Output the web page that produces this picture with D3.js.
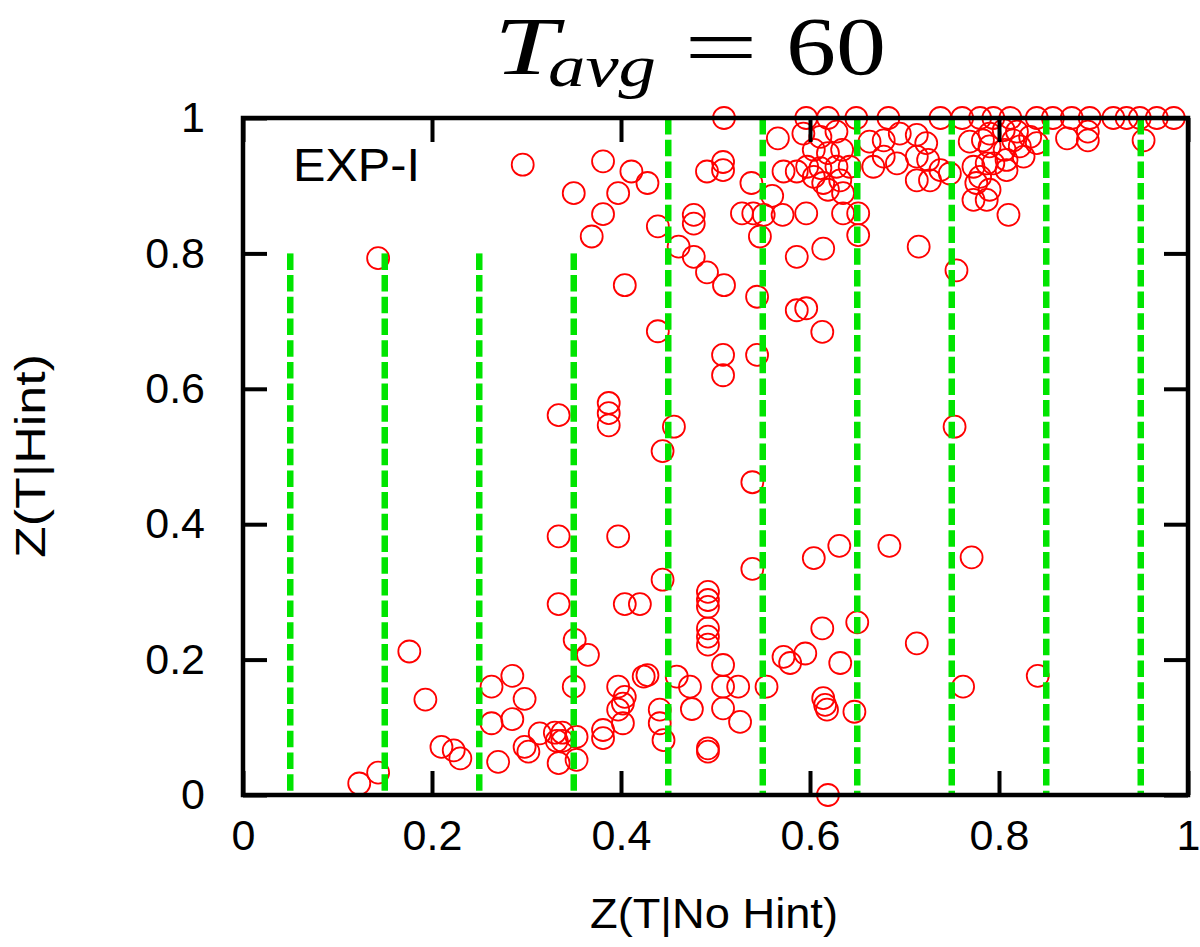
<!DOCTYPE html>
<html>
<head>
<meta charset="utf-8">
<script src="https://cdn.jsdelivr.net/npm/d3@7"></script>
<style>
  html, body { margin: 0; padding: 0; background: #fff; }
  svg { display: block; }
  .tick text { font-family: "Liberation Sans", Arial, sans-serif; }
</style>
</head>
<body>
<svg id="chart" width="1200" height="947"></svg>
<script>
// Z(T|No Hint) per trial
const noHint = [
  0.123, 0.143, 0.143, 0.176, 0.193, 0.210, 0.223, 0.230, 0.263, 0.285,
  0.298, 0.263, 0.285, 0.270, 0.298, 0.302, 0.314, 0.330, 0.338, 0.332,
  0.338, 0.334, 0.353, 0.353, 0.350, 0.351, 0.365, 0.334, 0.334, 0.334,
  0.387, 0.387, 0.387, 0.397, 0.404, 0.420, 0.381, 0.381, 0.397, 0.402,
  0.404, 0.397, 0.402, 0.424, 0.428, 0.441, 0.441, 0.445, 0.444, 0.444,
  0.439, 0.296, 0.381, 0.411, 0.428, 0.350, 0.397, 0.381, 0.369, 0.404,
  0.439,
  0.456, 0.459, 0.473, 0.475, 0.492, 0.492, 0.492, 0.492, 0.492, 0.492,
  0.492, 0.492, 0.508, 0.508, 0.524, 0.508, 0.526, 0.539, 0.539, 0.554,
  0.572, 0.579, 0.595, 0.508, 0.508, 0.544, 0.544, 0.491, 0.509, 0.461,
  0.477, 0.477, 0.477, 0.491, 0.508, 0.508, 0.509, 0.538, 0.528, 0.540,
  0.551, 0.547, 0.560, 0.566, 0.572, 0.571, 0.586, 0.596, 0.586, 0.596,
  0.586, 0.593, 0.596, 0.597,
  0.604, 0.604, 0.611, 0.611, 0.614, 0.614, 0.613, 0.604, 0.613, 0.614,
  0.616, 0.618, 0.619, 0.619, 0.619, 0.619, 0.628, 0.628, 0.632, 0.634,
  0.635, 0.635, 0.631, 0.632, 0.642, 0.647, 0.650, 0.651, 0.651, 0.649,
  0.663, 0.667, 0.678, 0.678, 0.683, 0.684, 0.692, 0.695,
  0.713, 0.713, 0.713, 0.715, 0.713, 0.723, 0.725, 0.727, 0.738, 0.738,
  0.748, 0.753, 0.755, 0.761, 0.762, 0.769, 0.771, 0.773, 0.773, 0.776,
  0.780, 0.783, 0.787, 0.787, 0.780, 0.790, 0.790, 0.790, 0.794, 0.794,
  0.805, 0.806, 0.808, 0.808, 0.810, 0.812, 0.815, 0.819, 0.822, 0.826,
  0.833, 0.840, 0.840, 0.841, 0.857, 0.872, 0.877, 0.894, 0.894, 0.896,
  0.921, 0.935, 0.949, 0.953, 0.967, 0.985
];

// Z(T|Hint) per trial, same order as noHint
const withHint = [
  0.017, 0.033, 0.793, 0.212, 0.141, 0.071, 0.066, 0.054, 0.160, 0.176,
  0.142, 0.106, 0.112, 0.049, 0.071, 0.064, 0.091, 0.092, 0.092, 0.080,
  0.080, 0.047, 0.086, 0.052, 0.160, 0.229, 0.207, 0.282, 0.382, 0.561,
  0.579, 0.564, 0.546, 0.382, 0.282, 0.282, 0.096, 0.084, 0.126, 0.135,
  0.145, 0.160, 0.106, 0.175, 0.177, 0.126, 0.106, 0.081, 0.318, 0.508,
  0.685, 0.931, 0.936, 0.921, 0.904, 0.889, 0.889, 0.858, 0.825, 0.753,
  0.840,
  0.544, 0.175, 0.160, 0.127, 0.300, 0.288, 0.278, 0.246, 0.234, 0.222,
  0.069, 0.064, 0.192, 0.160, 0.160, 0.128, 0.108, 0.462, 0.334, 0.160,
  0.204, 0.195, 0.209, 0.650, 0.620, 0.650, 0.736, 0.772, 0.753, 0.810,
  0.795, 0.857, 0.844, 0.921, 0.923, 0.935, 1.000, 0.904, 0.859, 0.859,
  0.857, 0.825, 0.885, 0.970, 0.921, 0.857, 0.716, 0.719, 0.795, 0.859,
  0.921, 0.977, 1.000, 0.928,
  0.953, 0.913, 0.972, 0.926, 0.904, 0.807, 0.684, 0.350, 0.246, 0.143,
  0.133, 0.126, 0.000, 0.948, 1.000, 0.894, 0.980, 0.928, 0.908, 0.953,
  0.889, 0.859, 0.368, 0.195, 0.928, 0.123, 0.255, 0.859, 0.827, 1.000,
  0.965, 0.928, 0.967, 0.943, 1.000, 0.368, 0.933, 0.977,
  0.975, 0.943, 0.908, 0.810, 0.224, 0.963, 0.938, 0.908, 1.000, 0.923,
  0.918, 0.544, 0.775, 1.000, 0.160, 0.965, 0.351, 0.928, 0.879, 0.904,
  1.000, 0.967, 0.933, 0.879, 0.913, 0.977, 0.958, 0.894, 1.000, 0.933,
  0.982, 0.953, 0.938, 0.923, 0.857, 1.000, 0.967, 0.980, 0.958, 0.943,
  0.972, 0.963, 1.000, 0.176, 1.000, 0.970, 1.000, 0.967, 0.980, 1.000,
  1.000, 1.000, 1.000, 0.967, 1.000, 1.000
];

// Vertical dashed reference lines (x position and upper end)
const refX = [0.05, 0.15, 0.25, 0.35, 0.45, 0.55, 0.65, 0.75, 0.85, 0.95];
const refTop = [0.8, 0.8, 0.8, 0.8, 1, 1, 1, 1, 1, 1];

const xTicks = [0, 0.2, 0.4, 0.6, 0.8, 1];
const yTicks = [0, 0.2, 0.4, 0.6, 0.8, 1];
const xTickLabels = ["0", "0.2", "0.4", "0.6", "0.8", "1"];
const yTickLabels = ["0", "0.2", "0.4", "0.6", "0.8", "1"];

const panelLabel = "EXP-I";
const xTitle = "Z(T|No Hint)";
const yTitle = "Z(T|Hint)";

const svg = d3.select("#chart");
const plotL = 243, plotR = 1188, plotT = 118, plotB = 795;

const x = d3.scaleLinear().domain([0, 1]).range([plotL, plotR]);
const y = d3.scaleLinear().domain([0, 1]).range([plotB, plotT]);

const points = noHint.map((v, i) => ({ nh: v, h: withHint[i] }));

// scatter of trials
svg.append("g")
  .selectAll("circle")
  .data(points)
  .join("circle")
  .attr("cx", d => x(d.nh))
  .attr("cy", d => y(d.h))
  .attr("r", 11)
  .attr("fill", "none")
  .attr("stroke", "#ff0000")
  .attr("stroke-width", 1.8);

// dashed green reference lines
svg.append("g")
  .selectAll("line")
  .data(refX)
  .join("line")
  .attr("x1", d => x(d))
  .attr("x2", d => x(d))
  .attr("y1", (d, i) => y(refTop[i]))
  .attr("y2", y(0))
  .attr("stroke", "#00e400")
  .attr("stroke-width", 6.5)
  .attr("stroke-dasharray", "16.5,5.2");

// frame
svg.append("rect")
  .attr("x", plotL).attr("y", plotT)
  .attr("width", plotR - plotL).attr("height", plotB - plotT)
  .attr("fill", "none").attr("stroke", "#000").attr("stroke-width", 4.5);

const tickLen = 24;
const fmtX = (d, i) => xTickLabels[i];
const fmtY = (d, i) => yTickLabels[i];

function styleAxis(g) {
  g.select(".domain").remove();
  g.selectAll(".tick line").attr("stroke", "#000").attr("stroke-width", 4);
}

svg.append("g")
  .attr("transform", `translate(0,${plotB})`)
  .call(d3.axisBottom(x).tickValues(xTicks).tickFormat(fmtX)
    .tickSizeInner(-tickLen).tickSizeOuter(0).tickPadding(24))
  .call(styleAxis)
  .call(g => g.selectAll(".tick text")
    .attr("font-size", 43).attr("fill", "#000"));

svg.append("g")
  .attr("transform", `translate(${plotL},0)`)
  .call(d3.axisLeft(y).tickValues(yTicks).tickFormat(fmtY)
    .tickSizeInner(-tickLen).tickSizeOuter(0).tickPadding(38))
  .call(styleAxis)
  .call(g => g.selectAll(".tick text")
    .attr("font-size", 43).attr("fill", "#000"));

svg.append("g")
  .attr("transform", `translate(0,${plotT})`)
  .call(d3.axisTop(x).tickValues(xTicks).tickFormat("")
    .tickSizeInner(-tickLen).tickSizeOuter(0))
  .call(styleAxis);

svg.append("g")
  .attr("transform", `translate(${plotR},0)`)
  .call(d3.axisRight(y).tickValues(yTicks).tickFormat("")
    .tickSizeInner(-tickLen).tickSizeOuter(0))
  .call(styleAxis);

const sans = "Liberation Sans, Arial, sans-serif";
const serif = "Liberation Serif, 'DejaVu Serif', serif";

// panel tag
svg.append("text")
  .attr("x", 293).attr("y", 181)
  .attr("font-family", sans)
  .attr("font-size", 46)
  .attr("textLength", 127).attr("lengthAdjust", "spacingAndGlyphs")
  .text(panelLabel);

// axis titles
svg.append("text")
  .attr("x", 590).attr("y", 928)
  .attr("font-family", sans)
  .attr("font-size", 42)
  .attr("textLength", 248).attr("lengthAdjust", "spacingAndGlyphs")
  .text(xTitle);

svg.append("text")
  .attr("transform", "translate(45,558) rotate(-90)")
  .attr("font-family", sans)
  .attr("font-size", 42)
  .attr("textLength", 204).attr("lengthAdjust", "spacingAndGlyphs")
  .text(yTitle);

// title: T_avg = 60
svg.append("text")
  .attr("x", 494).attr("y", 74)
  .attr("font-family", serif).attr("font-style", "italic")
  .attr("font-size", 82)
  .attr("textLength", 64).attr("lengthAdjust", "spacingAndGlyphs")
  .text("T");
svg.append("text")
  .attr("x", 548).attr("y", 86)
  .attr("font-family", serif).attr("font-style", "italic")
  .attr("font-size", 60)
  .attr("textLength", 108).attr("lengthAdjust", "spacingAndGlyphs")
  .text("avg");
svg.append("text")
  .attr("x", 684).attr("y", 75)
  .attr("font-family", serif)
  .attr("font-size", 82)
  .attr("textLength", 74).attr("lengthAdjust", "spacingAndGlyphs")
  .text("=");
svg.append("text")
  .attr("x", 786).attr("y", 74)
  .attr("font-family", serif)
  .attr("font-size", 82)
  .attr("textLength", 100).attr("lengthAdjust", "spacingAndGlyphs")
  .text("60");
</script>
</body>
</html>
